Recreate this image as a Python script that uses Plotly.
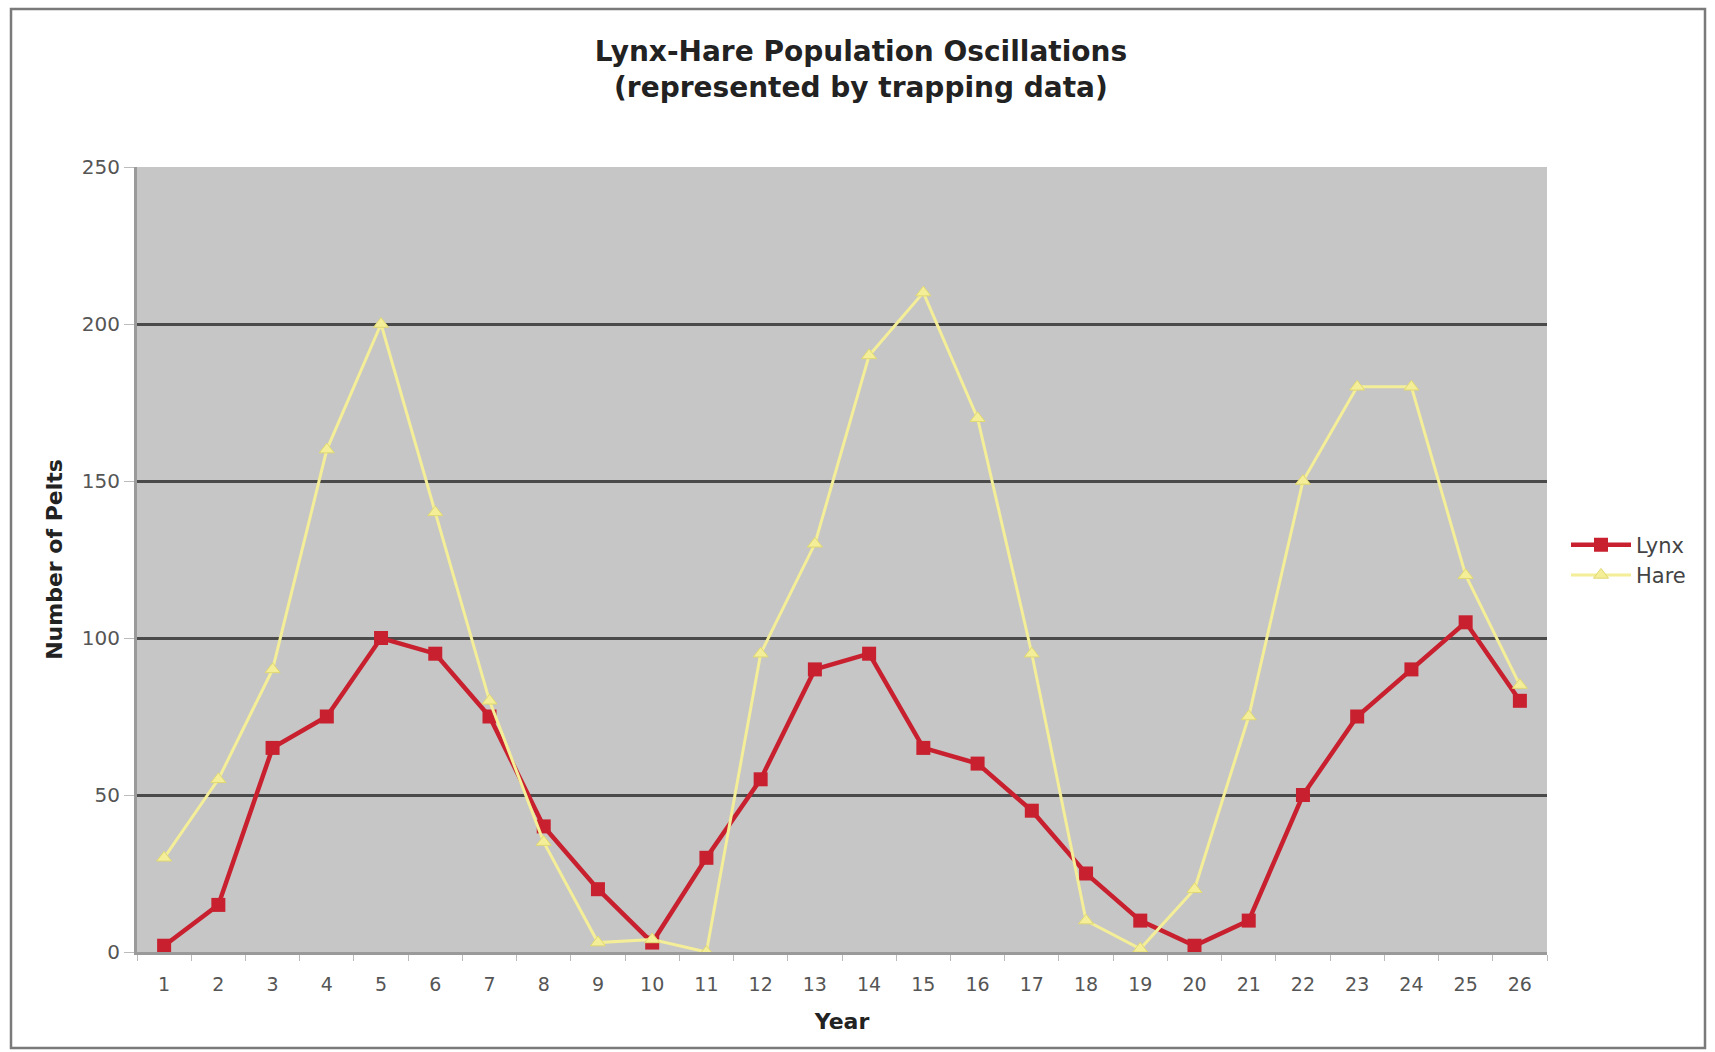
import plotly.graph_objects as go

# Trapping records per year (number of pelts)
years = [str(y) for y in range(1, 27)]
lynx = [2, 15, 65, 75, 100, 95, 75, 40, 20, 3, 30, 55, 90, 95, 65, 60, 45, 25, 10, 2, 10, 50, 75, 90, 105, 80]
hare = [30, 55, 90, 160, 200, 140, 80, 35, 3, 4, 0, 95, 130, 190, 210, 170, 95, 10, 1, 20, 75, 150, 180, 180, 120, 85]
y_ticks = [0, 50, 100, 150, 200, 250]

W, H = 1715, 1052
L, R, T, B = 137, 168, 167, 100
pw, ph = W - L - R, H - T - B

font = "DejaVu Sans, Verdana, sans-serif"

fig = go.Figure()
fig.add_trace(go.Scatter(
    x=years, y=lynx, name="Lynx", mode="lines+markers",
    line=dict(color="#C8202E", width=4.5),
    marker=dict(symbol="square", size=14, color="#C8202E"),
))
fig.add_trace(go.Scatter(
    x=years, y=hare, name="Hare", mode="lines+markers",
    line=dict(color="#F4EE98", width=3),
    marker=dict(symbol="triangle-up", size=13, color="#F4EE98",
                line=dict(color="#E0D870", width=1)),
))

# outer chart frame
fig.add_shape(type="rect", xref="paper", yref="paper",
              x0=(11 - L) / pw, x1=(1705 - L) / pw,
              y0=(H - B - 1048) / ph, y1=(H - B - 9) / ph,
              line=dict(color="#7A7A7A", width=2.5), layer="below")

fig.update_layout(
    width=W, height=H, autosize=False,
    margin=dict(l=L, r=R, t=T, b=B),
    paper_bgcolor="white",
    plot_bgcolor="#C6C6C6",
    font=dict(family=font, color="#4A4A4A", size=19),
    title=dict(
        text="<b>Lynx-Hare Population Oscillations<br>(represented by trapping data)</b>",
        x=0.502, xanchor="center", y=1 - 61 / H, yanchor="middle",
        font=dict(family=font, size=28, color="#222222"),
    ),
    xaxis=dict(
        type="category", categoryorder="array", categoryarray=years,
        range=[-0.5, 25.5], autorange=False,
        showgrid=False, ticks="outside", tickson="boundaries",
        ticklen=6, tickcolor="#BBBBBB",
        showline=True, linecolor="#9A9A9A", linewidth=3,
        tickfont=dict(size=19, color="#555555"), ticklabelstandoff=13,
        title=dict(text="<b>Year</b>", font=dict(size=22, color="#222222"), standoff=20),
    ),
    yaxis=dict(
        range=[0, 250], tickvals=y_ticks, autorange=False,
        showgrid=True, gridcolor="#4A4A4A", gridwidth=2.5,
        zeroline=False, ticks="outside", ticklen=10, tickcolor="#BBBBBB",
        showline=True, linecolor="#9A9A9A", linewidth=3,
        tickfont=dict(size=20, color="#555555"),
        title=dict(text="<b>Number of Pelts</b>", font=dict(size=22, color="#222222"), standoff=14),
    ),
    legend=dict(
        x=(1566 - L) / pw, xanchor="left",
        y=(H - B - 560) / ph, yanchor="middle",
        bgcolor="rgba(0,0,0,0)", font=dict(size=21, color="#444444"),
        tracegroupgap=0, itemwidth=60,
    ),
)

fig.write_html("out.html")
